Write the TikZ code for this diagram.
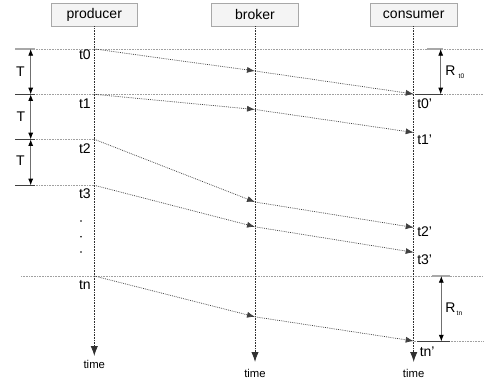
\documentclass[tikz,border=0pt]{standalone}
\usepackage{fontspec}
\setmainfont{Liberation Sans}
\usetikzlibrary{arrows.meta}
\definecolor{boxfill}{HTML}{F4F4F4}
\definecolor{boxline}{HTML}{A8A8A8}
\definecolor{guide}{HTML}{A0A0A0}
\definecolor{msgline}{HTML}{404040}
\definecolor{lifeline}{HTML}{303030}
\definecolor{extlight}{HTML}{A8A8A8}
\definecolor{extdark}{HTML}{404040}
\definecolor{dimline}{HTML}{707070}
\begin{document}
\begin{tikzpicture}[x=0.75pt,y=-0.75pt,
  actor/.style={draw=boxline, fill=boxfill, minimum width=65pt, minimum height=17.25pt, inner sep=0pt, font=\fontsize{10.5}{12}\selectfont},
  life/.style={draw=lifeline, line width=0.65pt, dash pattern=on 0.6pt off 0.6pt, -{Latex[length=7.5pt,width=5.5pt]}},
  msg/.style={draw=msgline, line width=0.55pt, dash pattern=on 0.6pt off 0.8pt, -{Latex[length=6pt,width=4.5pt]}},
  guideline/.style={draw=guide, line width=0.5pt, dash pattern=on 0.6pt off 0.6pt},
  extl/.style={draw=extlight, line width=0.8pt},
  extd/.style={draw=extdark, line width=0.6pt},
  dim/.style={draw=dimline, line width=0.6pt, {Latex[length=5pt,width=3.8pt,black]}-{Latex[length=5pt,width=3.8pt,black]}},
  lbl/.style={font=\fontsize{10.5}{12}\selectfont, inner sep=0pt},
  tlbl/.style={font=\fontsize{8.5}{10}\selectfont, inner sep=0pt}
]
\useasboundingbox (0,0) rectangle (493,381);

% actors
\node[actor] (prod) at (94.3,14.7) {producer};
\node[actor] (brok) at (255,14.7) {broker};
\node[actor] (cons) at (413.7,14.7) {consumer};

% lifeline ends
\coordinate (pend) at (94.3,356);
\coordinate (bend) at (255,362);
\coordinate (cend) at (413.7,362);

% guide coordinates
\coordinate (g0l) at (15,49);     \coordinate (g0r) at (483,49);
\coordinate (g1l) at (15,94.3);   \coordinate (g1r) at (483,94.3);
\coordinate (g2l) at (15,139.3);  \coordinate (g2r) at (94.3,139.3);
\coordinate (g3l) at (15,185.3);  \coordinate (g3r) at (94.3,185.3);
\coordinate (gnl) at (21,276);    \coordinate (gnr) at (483,276);
\coordinate (gml) at (413.7,341.5); \coordinate (gmr) at (483,341.5);

\draw[guideline] (g0l) -- (g0r);
\draw[guideline] (g1l) -- (g1r);
\draw[guideline] (g2l) -- (g2r);
\draw[guideline] (g3l) -- (g3r);
\draw[guideline] (gnl) -- (gnr);
\draw[guideline] (gml) -- (gmr);

% lifelines
\draw[life] (prod.south) -- (pend);
\draw[life] (brok.south) -- (bend);
\draw[life] (cons.south) -- (cend);

% message points
\coordinate (p0) at (94.3,49);    \coordinate (b0) at (255,71);    \coordinate (c0) at (413.7,94);
\coordinate (p1) at (94.3,94.3);  \coordinate (b1) at (255,109.5); \coordinate (c1) at (413.7,132.5);
\coordinate (p2) at (94.3,139.3); \coordinate (b2) at (255,202);   \coordinate (c2) at (413.7,227.5);
\coordinate (p3) at (94.3,185.3); \coordinate (b3) at (255,226.8); \coordinate (c3) at (413.7,252.3);
\coordinate (pn) at (94.3,276);   \coordinate (bn) at (255,316.8); \coordinate (cn) at (413.7,341);

\foreach \i in {0,1,2,3,n}{
  \draw[msg] (p\i) -- (b\i);
  \draw[msg] (b\i) -- (c\i);
}

% producer labels
\node[lbl, anchor=east] (lt0) at (91,55) {t0};
\node[lbl, anchor=east] (lt1) at (91,104) {t1};
\node[lbl, anchor=east] (lt2) at (91,149) {t2};
\node[lbl, anchor=east] (lt3) at (91,193.5) {t3};
\node[lbl, anchor=east] (ltn) at (91,285) {tn};
\fill[black] (81,221) circle (0.9);
\fill[black] (81,236.7) circle (0.9);
\fill[black] (81,252) circle (0.9);

% consumer labels
\node[lbl, anchor=west] (lc0) at (417,104) {t0'};
\node[lbl, anchor=west] (lc1) at (417,140) {t1'};
\node[lbl, anchor=west] (lc2) at (417,232) {t2'};
\node[lbl, anchor=west] (lc3) at (417,260) {t3'};
\node[lbl, anchor=west] (lcn) at (419.5,352) {tn'};

% time labels
\node[tlbl] (time1) at (94.3,364.5) {time};
\node[tlbl] (time2) at (255,373.5) {time};
\node[tlbl] (time3) at (413.7,373.5) {time};

% T dimensions
\coordinate (ta0l) at (15,49);    \coordinate (ta0r) at (35,49);
\coordinate (ta1l) at (15,94.3);  \coordinate (ta1r) at (35,94.3);
\coordinate (ta2l) at (15,139.3); \coordinate (ta2r) at (35,139.3);
\coordinate (ta3l) at (15,185.3); \coordinate (ta3r) at (35,185.3);
\draw[extl] (ta0l) -- (ta0r);
\draw[extd] (ta1l) -- (ta1r);
\draw[extd] (ta2l) -- (ta2r);
\draw[extd] (ta3l) -- (ta3r);
\coordinate (d0) at (30.7,49);
\coordinate (d1) at (30.7,94.3);
\coordinate (d2) at (30.7,139.3);
\coordinate (d3) at (30.7,185.3);
\draw[dim] (d0) -- (d1);
\draw[dim] (d1) -- (d2);
\draw[dim] (d2) -- (d3);
\node[lbl] (T1) at (20.5,71.5) {T};
\node[lbl] (T2) at (21,117) {T};
\node[lbl] (T3) at (20.5,160.5) {T};

% R dimensions
\coordinate (r0a) at (427,49);   \coordinate (r0b) at (443,49);
\coordinate (r0c) at (415,94.3); \coordinate (r0d) at (443,94.3);
\draw[extl] (r0a) -- (r0b);
\draw[extd] (r0c) -- (r0d);
\coordinate (rt0top) at (440.7,49);
\coordinate (rt0bot) at (440.7,94.3);
\draw[dim] (rt0top) -- (rt0bot);
\node[lbl, anchor=west] (Rt0) at (445,72.5) {R\hspace{2.5pt}\raisebox{-2.5pt}{\fontsize{5}{5}\selectfont t0}};

\coordinate (rna) at (432,276);   \coordinate (rnb) at (450,276);
\coordinate (rnc) at (417,341.5); \coordinate (rnd) at (450,341.5);
\draw[extl] (rna) -- (rnb);
\draw[extd] (rnc) -- (rnd);
\coordinate (rntop) at (441.3,276);
\coordinate (rnbot) at (441.3,341.5);
\draw[dim] (rntop) -- (rnbot);
\node[lbl, anchor=west] (Rtn) at (445,309) {R\hspace{1pt}\raisebox{-2.5pt}{\fontsize{5}{5}\selectfont tn}};
\end{tikzpicture}
\end{document}
